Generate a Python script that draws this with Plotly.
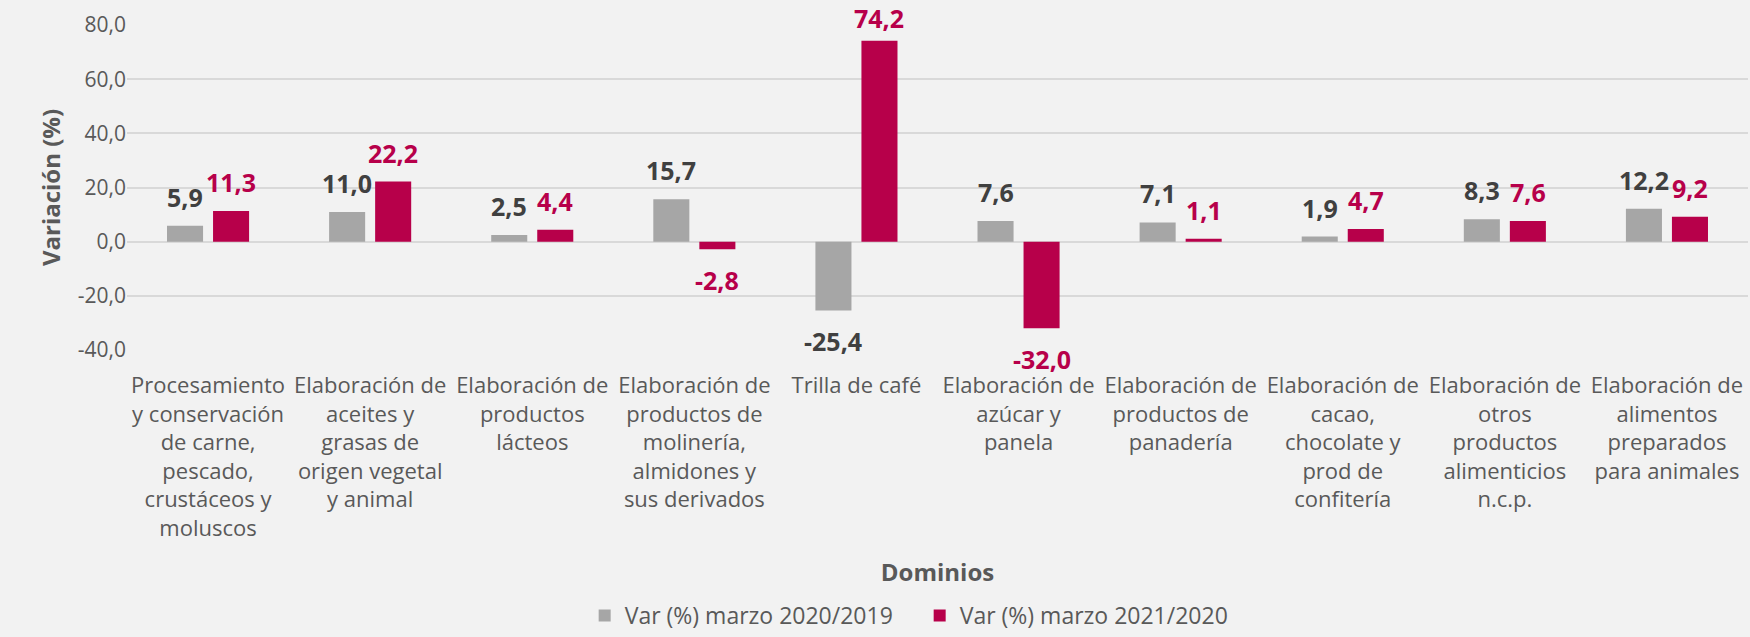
import plotly.graph_objects as go

categorias = [
    "Procesamiento<br>y conservación<br>de carne,<br>pescado,<br>crustáceos y<br>moluscos",
    "Elaboración de<br>aceites y<br>grasas de<br>origen vegetal<br>y animal",
    "Elaboración de<br>productos<br>lácteos",
    "Elaboración de<br>productos de<br>molinería,<br>almidones y<br>sus derivados",
    "Trilla de café",
    "Elaboración de<br>azúcar y<br>panela",
    "Elaboración de<br>productos de<br>panadería",
    "Elaboración de<br>cacao,<br>chocolate y<br>prod de<br>confitería",
    "Elaboración de<br>otros<br>productos<br>alimenticios<br>n.c.p.",
    "Elaboración de<br>alimentos<br>preparados<br>para animales",
]
var_2020 = [5.9, 11.0, 2.5, 15.7, -25.4, 7.6, 7.1, 1.9, 8.3, 12.2]
var_2021 = [11.3, 22.2, 4.4, -2.8, 74.2, -32.0, 1.1, 4.7, 7.6, 9.2]
y_ticks = [-40, -20, 0, 20, 40, 60, 80]
y_tick_labels = ["-40,0", "-20,0", "0,0", "20,0", "40,0", "60,0", "80,0"]

GRIS = "#A6A6A6"
ROJO = "#B7004A"
FONT = "Open Sans"
TOP = 25
BOTTOM = 287
Y_RANGE = [-40, 80]
PLOT_H = 637 - TOP - BOTTOM
PX_UNIT = PLOT_H / (Y_RANGE[1] - Y_RANGE[0])


def fmt(v):
    return f"{v:.1f}".replace(".", ",")


fig = go.Figure()
fig.add_trace(go.Bar(x=categorias, y=var_2020, name="Var (%) marzo 2020/2019",
                     marker=dict(color=GRIS, line=dict(width=0))))
fig.add_trace(go.Bar(x=categorias, y=var_2021, name="Var (%) marzo 2021/2020",
                     marker=dict(color=ROJO, line=dict(width=0))))

# data labels, a bit further from the bars like in excel, kept inside the page
for serie, color, shift in [(var_2020, "#404040", -23), (var_2021, ROJO, 23)]:
    for cat, v in zip(categorias, serie):
        if v >= 0:
            room = TOP + (Y_RANGE[1] - v) * PX_UNIT - 37
            ys = max(0, min(10, room))
        else:
            ys = -12
        fig.add_annotation(
            x=cat, y=v, xshift=shift, yshift=ys,
            yanchor="bottom" if v >= 0 else "top",
            text=fmt(v), showarrow=False,
            font=dict(family=FONT, size=25, color=color, weight="bold"),
        )

fig.update_layout(
    width=1750, height=637,
    barmode="group", bargap=0.432, bargroupgap=0.217,
    paper_bgcolor="#F2F2F2", plot_bgcolor="#F2F2F2",
    margin=dict(l=127, r=2, t=TOP, b=BOTTOM, autoexpand=False),
    font=dict(family=FONT, size=22, color="#595959"),
    legend=dict(orientation="h", x=0.489, xanchor="center",
                yref="container", y=0.0, yanchor="bottom",
                font=dict(size=23, color="#595959"), itemwidth=30,
                entrywidth=290),
)
fig.update_yaxes(range=Y_RANGE, tickvals=y_ticks, ticktext=y_tick_labels,
                 showgrid=True, gridcolor="#D9D9D9", gridwidth=2,
                 zeroline=True, zerolinecolor="#D9D9D9", zerolinewidth=2,
                 tickfont=dict(size=21, color="#595959"),
                 title=dict(text="Variación (%)", standoff=10,
                            font=dict(size=24, color="#595959", weight="bold")))
fig.update_xaxes(showgrid=False, showline=False, ticks="",
                 ticklabelstandoff=20,
                 tickfont=dict(size=22, color="#595959"),
                 title=dict(text="Dominios", standoff=23,
                            font=dict(size=24, color="#595959", weight="bold")))

fig.write_html("out.html", config={"displayModeBar": False},
               post_script="document.body.style.margin='0';")
